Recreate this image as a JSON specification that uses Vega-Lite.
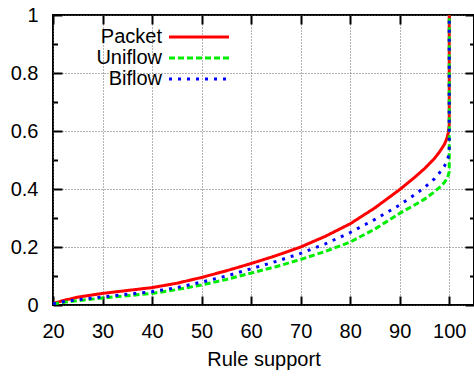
{
  "$schema": "https://vega.github.io/schema/vega-lite/v6.json",
  "width": 421,
  "height": 290,
  "autosize": {"type": "none"},
  "padding": {"left": 53, "top": 15, "right": 0, "bottom": 71},
  "background": "white",
  "config": {
    "font": "Liberation Sans",
    "view": {"stroke": "black", "strokeWidth": 2},
    "axis": {"domain": false, "ticks": true, "tickColor": "#000000", "tickOpacity": 1, "tickWidth": 2, "labelColor": "black", "titleColor": "black", "labelFont": "Liberation Sans", "titleFont": "Liberation Sans", "labelFontSize": 20, "titleFontSize": 20, "titleFontWeight": "normal", "labelFlush": false, "gridColor": "#666", "gridDash": [1, 2], "gridWidth": 1},
    "legend": {"orient": "none", "legendX": 136, "legendY": 12, "padding": 0, "symbolType": "M-10,0H10", "symbolSize": 36, "symbolStrokeWidth": 3, "labelAlign": "right", "labelOffset": -47, "labelFontSize": 20, "labelFont": "Liberation Sans", "labelColor": "black", "rowPadding": 1, "title": null}
  },
  "data": {"values": [
    {"s": "Packet", "i": 0, "x": 20, "y": 0.005},
    {"s": "Packet", "i": 1, "x": 22, "y": 0.015},
    {"s": "Packet", "i": 2, "x": 25, "y": 0.027},
    {"s": "Packet", "i": 3, "x": 30, "y": 0.040},
    {"s": "Packet", "i": 4, "x": 35, "y": 0.050},
    {"s": "Packet", "i": 5, "x": 40, "y": 0.060},
    {"s": "Packet", "i": 6, "x": 45, "y": 0.075},
    {"s": "Packet", "i": 7, "x": 50, "y": 0.095},
    {"s": "Packet", "i": 8, "x": 55, "y": 0.118},
    {"s": "Packet", "i": 9, "x": 60, "y": 0.143},
    {"s": "Packet", "i": 10, "x": 65, "y": 0.170},
    {"s": "Packet", "i": 11, "x": 70, "y": 0.200},
    {"s": "Packet", "i": 12, "x": 75, "y": 0.237},
    {"s": "Packet", "i": 13, "x": 80, "y": 0.280},
    {"s": "Packet", "i": 14, "x": 85, "y": 0.335},
    {"s": "Packet", "i": 15, "x": 90, "y": 0.398},
    {"s": "Packet", "i": 16, "x": 93, "y": 0.440},
    {"s": "Packet", "i": 17, "x": 95, "y": 0.470},
    {"s": "Packet", "i": 18, "x": 97, "y": 0.505},
    {"s": "Packet", "i": 19, "x": 98, "y": 0.527},
    {"s": "Packet", "i": 20, "x": 99, "y": 0.553},
    {"s": "Packet", "i": 21, "x": 99.5, "y": 0.573},
    {"s": "Packet", "i": 22, "x": 99.8, "y": 0.593},
    {"s": "Packet", "i": 23, "x": 100, "y": 0.620},
    {"s": "Packet", "i": 24, "x": 100, "y": 1.0},
    {"s": "Uniflow", "i": 0, "x": 20, "y": 0.003},
    {"s": "Uniflow", "i": 1, "x": 22, "y": 0.009},
    {"s": "Uniflow", "i": 2, "x": 25, "y": 0.015},
    {"s": "Uniflow", "i": 3, "x": 30, "y": 0.024},
    {"s": "Uniflow", "i": 4, "x": 35, "y": 0.032},
    {"s": "Uniflow", "i": 5, "x": 40, "y": 0.040},
    {"s": "Uniflow", "i": 6, "x": 45, "y": 0.053},
    {"s": "Uniflow", "i": 7, "x": 50, "y": 0.069},
    {"s": "Uniflow", "i": 8, "x": 55, "y": 0.088},
    {"s": "Uniflow", "i": 9, "x": 60, "y": 0.110},
    {"s": "Uniflow", "i": 10, "x": 65, "y": 0.132},
    {"s": "Uniflow", "i": 11, "x": 70, "y": 0.157},
    {"s": "Uniflow", "i": 12, "x": 75, "y": 0.185},
    {"s": "Uniflow", "i": 13, "x": 80, "y": 0.217},
    {"s": "Uniflow", "i": 14, "x": 85, "y": 0.262},
    {"s": "Uniflow", "i": 15, "x": 90, "y": 0.316},
    {"s": "Uniflow", "i": 16, "x": 93, "y": 0.345},
    {"s": "Uniflow", "i": 17, "x": 95, "y": 0.365},
    {"s": "Uniflow", "i": 18, "x": 97, "y": 0.390},
    {"s": "Uniflow", "i": 19, "x": 98, "y": 0.405},
    {"s": "Uniflow", "i": 20, "x": 99, "y": 0.422},
    {"s": "Uniflow", "i": 21, "x": 99.5, "y": 0.435},
    {"s": "Uniflow", "i": 22, "x": 99.8, "y": 0.447},
    {"s": "Uniflow", "i": 23, "x": 100, "y": 0.460},
    {"s": "Uniflow", "i": 24, "x": 100, "y": 1.0},
    {"s": "Biflow", "i": 0, "x": 20, "y": 0.004},
    {"s": "Biflow", "i": 1, "x": 22, "y": 0.011},
    {"s": "Biflow", "i": 2, "x": 25, "y": 0.018},
    {"s": "Biflow", "i": 3, "x": 30, "y": 0.028},
    {"s": "Biflow", "i": 4, "x": 35, "y": 0.037},
    {"s": "Biflow", "i": 5, "x": 40, "y": 0.046},
    {"s": "Biflow", "i": 6, "x": 45, "y": 0.060},
    {"s": "Biflow", "i": 7, "x": 50, "y": 0.079},
    {"s": "Biflow", "i": 8, "x": 55, "y": 0.100},
    {"s": "Biflow", "i": 9, "x": 60, "y": 0.125},
    {"s": "Biflow", "i": 10, "x": 65, "y": 0.150},
    {"s": "Biflow", "i": 11, "x": 70, "y": 0.178},
    {"s": "Biflow", "i": 12, "x": 75, "y": 0.211},
    {"s": "Biflow", "i": 13, "x": 80, "y": 0.250},
    {"s": "Biflow", "i": 14, "x": 85, "y": 0.295},
    {"s": "Biflow", "i": 15, "x": 90, "y": 0.345},
    {"s": "Biflow", "i": 16, "x": 93, "y": 0.380},
    {"s": "Biflow", "i": 17, "x": 95, "y": 0.405},
    {"s": "Biflow", "i": 18, "x": 97, "y": 0.435},
    {"s": "Biflow", "i": 19, "x": 98, "y": 0.455},
    {"s": "Biflow", "i": 20, "x": 99, "y": 0.478},
    {"s": "Biflow", "i": 21, "x": 99.5, "y": 0.495},
    {"s": "Biflow", "i": 22, "x": 99.8, "y": 0.510},
    {"s": "Biflow", "i": 23, "x": 100, "y": 0.530},
    {"s": "Biflow", "i": 24, "x": 100, "y": 1.0}
  ]},
  "layer": [
    {
      "mark": {"type": "line", "strokeWidth": 3, "clip": true},
      "encoding": {
        "x": {"field": "x", "type": "quantitative", "scale": {"domain": [20, 105], "nice": false},
          "axis": {"orient": "bottom", "values": [20, 30, 40, 50, 60, 70, 80, 90, 100], "grid": true, "offset": -9, "tickSize": 9, "labelPadding": 16, "title": "Rule support", "titlePadding": 8}},
        "y": {"field": "y", "type": "quantitative", "scale": {"domain": [0, 1], "nice": false},
          "axis": {"orient": "left", "values": [0, 0.2, 0.4, 0.6, 0.8, 1], "format": "~g",
            "grid": true, "offset": -9, "tickSize": 9, "labelPadding": 15, "title": null}},
        "color": {"field": "s", "type": "nominal", "scale": {"domain": ["Packet", "Uniflow", "Biflow"], "range": ["#ff0000", "#00ee00", "#0000ff"]}, "legend": {"title": null}},
        "strokeDash": {"field": "s", "type": "nominal", "scale": {"domain": ["Packet", "Uniflow", "Biflow"], "range": [[1, 0], [6, 3], [3, 6]]}, "legend": {"title": null}},
        "order": {"field": "i", "type": "quantitative"}
      }
    },
    {
      "mark": {"type": "line", "strokeOpacity": 0},
      "encoding": {
        "x": {"field": "x", "type": "quantitative", "scale": {"domain": [20, 105], "nice": false},
          "axis": {"orient": "top", "values": [20, 30, 40, 50, 60, 70, 80, 90, 100], "grid": false, "labels": false, "offset": -9, "tickSize": 9, "title": null}},
        "y": {"field": "y", "type": "quantitative", "scale": {"domain": [0, 1], "nice": false},
          "axis": {"orient": "right", "values": [0, 0.2, 0.4, 0.6, 0.8, 1], "grid": false, "labels": false, "offset": -9, "tickSize": 9, "title": null}},
        "detail": {"field": "s", "type": "nominal"},
        "order": {"field": "i", "type": "quantitative"}
      }
    },
    {
      "mark": {"type": "line", "strokeOpacity": 0},
      "encoding": {
        "x": {"field": "x", "type": "quantitative", "scale": {"domain": [20, 105], "nice": false}, "axis": null},
        "y": {"field": "y", "type": "quantitative", "scale": {"domain": [0, 1], "nice": false},
          "axis": {"orient": "left", "values": [0.1, 0.3, 0.5, 0.7, 0.9], "grid": false, "labels": false, "offset": -4.5, "tickSize": 4.5, "title": null}},
        "detail": {"field": "s", "type": "nominal"},
        "order": {"field": "i", "type": "quantitative"}
      }
    },
    {
      "mark": {"type": "line", "strokeOpacity": 0},
      "encoding": {
        "x": {"field": "x", "type": "quantitative", "scale": {"domain": [20, 105], "nice": false}, "axis": null},
        "y": {"field": "y", "type": "quantitative", "scale": {"domain": [0, 1], "nice": false},
          "axis": {"orient": "right", "values": [0.1, 0.3, 0.5, 0.7, 0.9], "grid": false, "labels": false, "offset": -4.5, "tickSize": 4.5, "title": null}},
        "detail": {"field": "s", "type": "nominal"},
        "order": {"field": "i", "type": "quantitative"}
      }
    }
  ]
}
